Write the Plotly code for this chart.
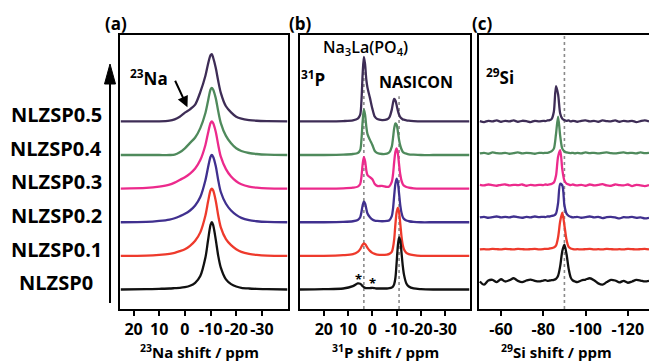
import plotly.graph_objects as go

W, H = 649, 364

samples = ["NLZSP0", "NLZSP0.1", "NLZSP0.2", "NLZSP0.3", "NLZSP0.4", "NLZSP0.5"]
colors = ["#111111", "#ee3a2c", "#40308f", "#ec2a8c", "#4f8a5c", "#3e2d56"]

# ---- panel (a): 23Na ----
na_ppm = [25, 15, 10, 6, 4, 2, 0, -2, -4, -6, -8, -9, -10, -10.5, -11, -12, -13, -14,
          -16, -18, -20, -22, -25, -28, -32, -40]
na_0 = [0, 0.01, 0.02, 0.03, 0.04, 0.05, 0.07, 0.11, 0.2, 0.4, 0.95, 1.45, 1.92, 2.0, 1.92,
        1.5, 1.0, 0.65, 0.3, 0.16, 0.09, 0.05, 0.03, 0.02, 0.01, 0]
na_1 = [0, 0.01, 0.03, 0.06, 0.09, 0.14, 0.2, 0.3, 0.45, 0.7, 1.2, 1.6, 1.95, 2.0, 1.95,
        1.65, 1.2, 0.85, 0.5, 0.32, 0.2, 0.12, 0.06, 0.03, 0.01, 0]
na_2 = [0, 0.01, 0.04, 0.08, 0.12, 0.18, 0.25, 0.35, 0.5, 0.75, 1.25, 1.62, 1.95, 2.0, 1.95,
        1.68, 1.25, 0.9, 0.55, 0.35, 0.22, 0.13, 0.06, 0.03, 0.01, 0]
na_3 = [0, 0.02, 0.06, 0.12, 0.18, 0.26, 0.34, 0.45, 0.6, 0.85, 1.3, 1.65, 1.95, 2.0, 1.95,
        1.7, 1.3, 0.95, 0.58, 0.36, 0.22, 0.13, 0.06, 0.03, 0.01, 0]
na_4 = [0, 0, 0, 0, 0.01, 0.08, 0.2, 0.36, 0.52, 0.8, 1.25, 1.6, 1.95, 2.0, 1.95,
        1.7, 1.3, 0.95, 0.57, 0.35, 0.2, 0.12, 0.06, 0.03, 0.01, 0]
na_5 = [0, 0, 0, 0.02, 0.06, 0.14, 0.26, 0.36, 0.5, 0.87, 1.36, 1.7, 1.97, 2.0, 1.9,
        1.6, 1.2, 0.85, 0.45, 0.27, 0.14, 0.08, 0.04, 0.02, 0.01, 0]
na_spectra = [na_0, na_1, na_2, na_3, na_4, na_5]

# ---- panel (b): 31P ----
p_ppm = [30, 20, 12, 8, 6, 5, 4.5, 4, 3.5, 3, 2.5, 2, 1, 0, -1, -2, -4, -6, -7, -8,
         -8.5, -9, -9.5, -10, -10.5, -11, -11.5, -12, -12.5, -13, -14, -15, -17, -20, -25, -30, -40]
p_0 = [0, 0.01, 0.03, 0.1, 0.18, 0.17, 0.14, 0.1, 0.07, 0.05, 0.04, 0.04, 0.04, 0.05, 0.04,
       0.03, 0.03, 0.03, 0.04, 0.06, 0.09, 0.16, 0.35, 0.8, 1.3, 1.55, 1.45, 1.1, 0.72, 0.45,
       0.18, 0.09, 0.03, 0.01, 0, 0, 0]
p_1 = [0, 0, 0.02, 0.05, 0.12, 0.2, 0.27, 0.33, 0.37, 0.35, 0.3, 0.24, 0.15, 0.09, 0.06,
       0.04, 0.03, 0.04, 0.06, 0.12, 0.25, 0.5, 0.95, 1.3, 1.43, 1.3, 0.95, 0.58, 0.33, 0.2,
       0.09, 0.05, 0.02, 0, 0, 0, 0]
p_2 = [0, 0, 0.01, 0.03, 0.07, 0.15, 0.3, 0.5, 0.61, 0.56, 0.4, 0.26, 0.15, 0.08, 0.05,
       0.04, 0.03, 0.04, 0.06, 0.18, 0.4, 0.8, 1.15, 1.3, 1.18, 0.85, 0.5, 0.28, 0.16, 0.1,
       0.05, 0.03, 0.01, 0, 0, 0, 0]
p_3 = [0, 0, 0.01, 0.03, 0.06, 0.14, 0.35, 0.72, 0.94, 0.82, 0.55, 0.4, 0.34, 0.28, 0.14,
       0.08, 0.08, 0.05, 0.07, 0.2, 0.42, 0.8, 1.1, 1.2, 1.05, 0.72, 0.42, 0.24, 0.14, 0.09,
       0.05, 0.03, 0.01, 0, 0, 0, 0]
p_4 = [0, 0, 0.01, 0.03, 0.06, 0.15, 0.45, 1.0, 1.36, 1.2, 0.85, 0.62, 0.45, 0.3, 0.12,
       0.06, 0.03, 0.04, 0.08, 0.25, 0.5, 0.8, 0.94, 0.9, 0.7, 0.45, 0.28, 0.17, 0.1, 0.07,
       0.04, 0.02, 0.01, 0, 0, 0, 0]
p_5 = [0, 0, 0.01, 0.03, 0.08, 0.2, 0.6, 1.4, 1.92, 1.7, 1.25, 1.0, 0.7, 0.38, 0.14,
       0.07, 0.04, 0.06, 0.12, 0.35, 0.55, 0.67, 0.62, 0.48, 0.32, 0.2, 0.13, 0.09, 0.06, 0.05,
       0.03, 0.02, 0.01, 0, 0, 0, 0]
p_spectra = [p_0, p_1, p_2, p_3, p_4, p_5]

# ---- panel (c): 29Si ----
si_ppm = [-50, -52, -54, -56, -58, -60, -62, -64, -66, -68, -70, -72, -74, -76, -78,
          -80, -81, -82, -83, -84, -85, -86, -87, -88, -89, -90, -91, -92, -93, -94, -95,
          -96, -98, -100, -102, -104, -106, -108, -110, -112, -114, -116, -118, -120, -122,
          -124, -126, -128, -130]
si_0 = [0.0, -0.1, 0.03, 0.05, -0.02, 0.07, 0.0, 0.04, 0.1, 0.02, -0.02, 0.03, 0.06, 0.02, 0.0,
        0.03, 0.04, 0.02, 0.03, 0.04, 0.05, 0.08, 0.18, 0.48, 0.95, 1.15, 0.85, 0.4, 0.12, 0.03, 0.0,
        -0.02, 0.03, 0.06, 0.1, 0.04, -0.06, -0.1, -0.02, 0.05, 0.03, -0.03, 0.02, -0.04, 0.0,
        0.05, 0.03, 0.0, 0.02]
si_1 = [0.0, 0.01, 0.0, 0.02, 0.01, 0.0, 0.02, 0.01, 0.0, 0.02, 0.01, 0.0, 0.01, 0.02, 0.0,
        0.01, 0.02, 0.02, 0.03, 0.04, 0.06, 0.12, 0.38, 0.88, 1.15, 0.75, 0.3, 0.08, 0.03, 0.01, 0.0,
        0.01, 0.0, 0.01, 0.02, 0.0, 0.01, 0.0, 0.02, 0.01, 0.0, 0.01, 0.0, 0.02, 0.01,
        0.0, 0.01, 0.02, 0.0]
si_2 = [0.0, 0.02, -0.01, 0.01, 0.03, 0.0, 0.02, 0.0, 0.03, 0.01, -0.01, 0.02, 0.0, 0.03, 0.01,
        0.02, 0.01, 0.03, 0.03, 0.05, 0.06, 0.12, 0.45, 1.05, 1.0, 0.38, 0.12, 0.05, 0.02, 0.0, 0.01,
        0.02, -0.01, 0.01, 0.03, 0.0, 0.02, -0.02, 0.01, 0.02, 0.0, -0.03, 0.01, 0.0, 0.02,
        -0.01, 0.0, -0.03, -0.01]
si_3 = [0.02, 0.0, 0.03, 0.01, -0.01, 0.02, 0.03, 0.0, 0.02, 0.01, 0.03, -0.01, 0.02, 0.0, 0.02,
        0.01, 0.03, 0.02, 0.03, 0.05, 0.09, 0.3, 0.9, 1.1, 0.5, 0.15, 0.06, 0.03, 0.01, 0.03, 0.01,
        0.0, 0.02, -0.01, 0.03, 0.0, 0.02, 0.04, 0.0, -0.01, 0.03, 0.01, 0.0, 0.03, -0.02,
        0.02, 0.0, -0.02, 0.01]
si_4 = [0.0, 0.02, -0.01, 0.03, 0.01, 0.0, 0.02, -0.01, 0.01, 0.03, 0.0, 0.02, 0.01, -0.01, 0.02,
        0.01, 0.02, 0.02, 0.04, 0.07, 0.15, 0.6, 1.15, 0.55, 0.15, 0.06, 0.03, 0.02, 0.01, 0.02, 0.0,
        0.02, 0.0, 0.03, 0.01, 0.02, 0.0, 0.02, 0.03, 0.01, 0.0, 0.02, 0.03, 0.01, 0.02,
        0.0, 0.03, 0.01, 0.02]
si_5 = [0.01, -0.02, 0.02, 0.0, 0.03, -0.01, 0.02, 0.0, 0.03, -0.01, 0.02, 0.01, -0.02, 0.02, 0.0,
        0.02, 0.01, 0.03, 0.04, 0.08, 0.3, 1.1, 0.85, 0.25, 0.08, 0.04, 0.02, 0.03, 0.0, 0.02, 0.01,
        -0.01, 0.02, 0.03, 0.0, 0.02, -0.01, 0.03, 0.01, 0.0, 0.03, -0.01, 0.02, 0.0, 0.02,
        -0.02, 0.01, 0.03, 0.0]
si_spectra = [si_0, si_1, si_2, si_3, si_4, si_5]

ticks_a = [20, 10, 0, -10, -20, -30]
ticklabels_a = ["20", "10", "0", "-10", "-20", "-30"]
ticks_c = [-60, -80, -100, -120]
ticklabels_c = ["-60", "-80", "-100", "-120"]

# ---------------- layout helpers ----------------
def px(x):
    return x / W

def py(y):
    return 1 - y / H

FONT = "Open Sans"
ydom = [py(309), py(35)]

fig = go.Figure()

panels = [
    (na_ppm, na_spectra, "x", "y"),
    (p_ppm, p_spectra, "x2", "y2"),
    (si_ppm, si_spectra, "x3", "y3"),
]
for ppm, spectra, xa, ya in panels:
    for i in reversed(range(len(samples))):
        fig.add_trace(go.Scatter(
            x=ppm, y=[v + i for v in spectra[i]], mode="lines",
            line=dict(color=colors[i], width=2.3, shape="spline", smoothing=0.8),
            xaxis=xa, yaxis=ya, showlegend=False, hoverinfo="skip"))

tickfont = dict(family=FONT, size=16, color="black", weight="bold")
xcommon = dict(showline=True, linecolor="black", linewidth=2, mirror=True,
               ticks="outside", ticklen=5, tickwidth=2, tickcolor="black", tickangle=0,
               showgrid=False, zeroline=False, tickfont=tickfont, fixedrange=True)
ycommon = dict(showline=True, linecolor="black", linewidth=2, mirror=True,
               showticklabels=False, ticks="", showgrid=False, zeroline=False,
               domain=ydom)

fig.update_layout(
    width=W, height=H, margin=dict(l=0, r=0, t=0, b=0),
    paper_bgcolor="white", plot_bgcolor="white", showlegend=False,
    xaxis=dict(xcommon, domain=[px(120), px(287.5)], range=[25.3, -40],
               tickvals=ticks_a, ticktext=ticklabels_a, anchor="y"),
    yaxis=dict(ycommon, range=[-0.58, 7.57], anchor="x"),
    xaxis2=dict(xcommon, domain=[px(299.5), px(469.5)], range=[30, -40],
                tickvals=ticks_a, ticktext=ticklabels_a, anchor="y2"),
    yaxis2=dict(ycommon, range=[-0.58, 7.57], anchor="x2"),
    xaxis3=dict(xcommon, domain=[px(479), 1.0], range=[-49.6, -130],
                tickvals=ticks_c, ticktext=ticklabels_c, anchor="y3"),
    yaxis3=dict(ycommon, range=[-0.86, 7.70], anchor="x3", mirror=False),
)

# dotted reference lines
dot = dict(color="#8a8a8a", width=1.6, dash="dot")
fig.add_shape(type="line", xref="x2", yref="y2", x0=3.5, x1=3.5, y0=-0.58, y1=6.8, line=dot, layer="below")
fig.add_shape(type="line", xref="x2", yref="y2", x0=-11, x1=-11, y0=-0.58, y1=5.75, line=dot, layer="below")
fig.add_shape(type="line", xref="x3", yref="y3", x0=-90, x1=-90, y0=-0.86, y1=7.70, line=dot, layer="below")

# big vertical arrow
fig.add_shape(type="line", xref="paper", yref="paper", x0=px(110), x1=px(110),
              y0=py(303), y1=py(80), line=dict(color="black", width=2))
fig.add_shape(type="path", xref="paper", yref="paper",
              path=f"M {px(104.5)},{py(84)} L {px(115.5)},{py(84)} L {px(110)},{py(64)} Z",
              fillcolor="black", line=dict(color="black", width=1))

def ann(text, x, y, size=16, weight="bold", xref="paper", yref="paper", **kw):
    fig.add_annotation(text=text, x=x, y=y, xref=xref, yref=yref, showarrow=False,
                       font=dict(family=FONT, size=size, color="black", weight=weight),
                       xanchor="center", yanchor="middle", **kw)

ann("(a)", px(116), py(23), size=17)
ann("(b)", px(300), py(23), size=17)
ann("(c)", px(482), py(23), size=17)
ann("<sup>23</sup>Na", px(149), py(77), size=17)
ann("<sup>31</sup>P", px(313), py(78), size=17)
ann("<sup>29</sup>Si", px(500), py(76), size=17)
ann("Na<sub>3</sub>La(PO<sub>4</sub>)", px(366), py(48), size=16, weight=600)
ann("NASICON", px(416), py(82), size=16)
ann("<sup>23</sup>Na shift / ppm", px(199), py(351.5), size=15)
ann("<sup>31</sup>P shift / ppm", px(385), py(351.5), size=15)
ann("<sup>29</sup>Si shift / ppm", px(556), py(351.5), size=15)

for i, name in enumerate(samples):
    ann(name, px(56), i + 0.2, size=20, yref="y")

# spinning sideband stars
ann("*", 5.7, 0.3, size=13, xref="x2", yref="y2")
ann("*", 0.0, 0.18, size=13, xref="x2", yref="y2")

# arrow pointing to the 23Na shoulder
fig.add_annotation(x=-1.0, y=5.42, xref="x", yref="y", ax=-13, ay=-28, text="",
                   showarrow=True, arrowhead=2, arrowsize=1.1, arrowwidth=2,
                   arrowcolor="black")

fig.write_html("out.html")
